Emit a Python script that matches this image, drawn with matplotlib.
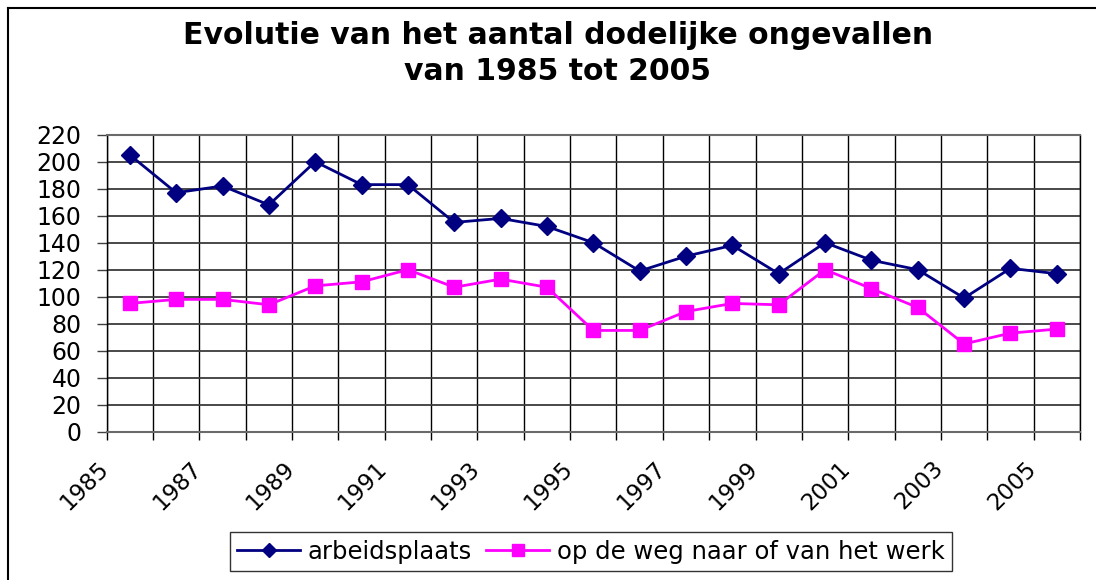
import matplotlib

matplotlib.use('Agg')

import numpy as np
import matplotlib.pyplot as plt
import matplotlib.transforms as mtransforms
from matplotlib.lines import Line2D

plt.rcParams['font.family'] = ['DejaVu Sans']

years = list(range(1985, 2006))
arbeidsplaats = [205, 177, 182, 168, 200, 183, 183, 155, 158, 152, 140,
                 119, 130, 138, 117, 140, 127, 120, 99, 121, 117]
onderweg = [95, 98, 98, 94, 108, 111, 120, 107, 113, 107, 75,
            75, 89, 95, 94, 120, 106, 92, 65, 73, 76]
title = 'Evolutie van het aantal dodelijke ongevallen\nvan 1985 tot 2005'
label_a = 'arbeidsplaats'
label_b = 'op de weg naar of van het werk'

fig = plt.figure(figsize=(10.96, 5.8), dpi=100)
ax = fig.add_axes([0.0973, 0.2557, 0.8881, 0.5121])

x = np.arange(len(years))
ax.plot(x, arbeidsplaats, color='#000080', lw=2, marker='D', ms=9,
        label=label_a, zorder=4)
ax.plot(x, onderweg, color='#FF00FF', lw=2, marker='s', ms=10,
        label=label_b, zorder=3)

ax.set_xlim(-0.5, len(years) - 0.5)
ax.set_ylim(0, 220)
ax.set_yticks(range(0, 221, 20))
ax.tick_params(axis='y', labelsize=17, length=7, width=1, pad=11, color='#404040')

# category boundaries: ticks + vertical grid, labels every other year
bounds = np.arange(len(years) + 1) - 0.5
ax.set_xticks(bounds)
ax.set_xticklabels([str(y) if i % 2 == 0 and i < len(years) else ''
                    for i, y in enumerate(years + [0])],
                   rotation=45, ha='right', fontsize=16.5)
ax.tick_params(axis='x', length=6, width=1, pad=12, color='black')
shift = mtransforms.ScaledTranslation(7 / 100, 0, fig.dpi_scale_trans)
for lbl in ax.get_xticklabels():
    lbl.set_transform(lbl.get_transform() + shift)

ax.grid(axis='x', color='black', lw=1)
ax.grid(axis='y', color='#3a3a3a', lw=1.3)
ax.set_axisbelow(True)
for side in ['top', 'bottom']:
    ax.spines[side].set_color('#6a6a6a')
    ax.spines[side].set_linewidth(1.5)
for side in ['left', 'right']:
    ax.spines[side].set_color('black')
    ax.spines[side].set_linewidth(1)

fig.text(0.509, 0.908, title, ha='center', va='center', fontsize=21.5,
         fontweight='bold', linespacing=1.3)

leg = fig.legend(loc='center', bbox_to_anchor=(0.539, 0.049), ncol=2,
                 fontsize=17.5, frameon=True, fancybox=False, edgecolor='black',
                 handlelength=2.6, handletextpad=0.3, columnspacing=0.6,
                 borderpad=0.3, borderaxespad=0, markerscale=0.8)
leg.get_frame().set_linewidth(1)

# outer chart border (top/left visible)
fig.add_artist(Line2D([8 / 1096, 1.0], [1 - 8 / 580, 1 - 8 / 580],
                      transform=fig.transFigure, color='black', lw=1.5))
fig.add_artist(Line2D([8 / 1096, 8 / 1096], [0.0, 1 - 8 / 580],
                      transform=fig.transFigure, color='black', lw=1.5))

fig.savefig('out.png', dpi=100)
plt.close(fig)
